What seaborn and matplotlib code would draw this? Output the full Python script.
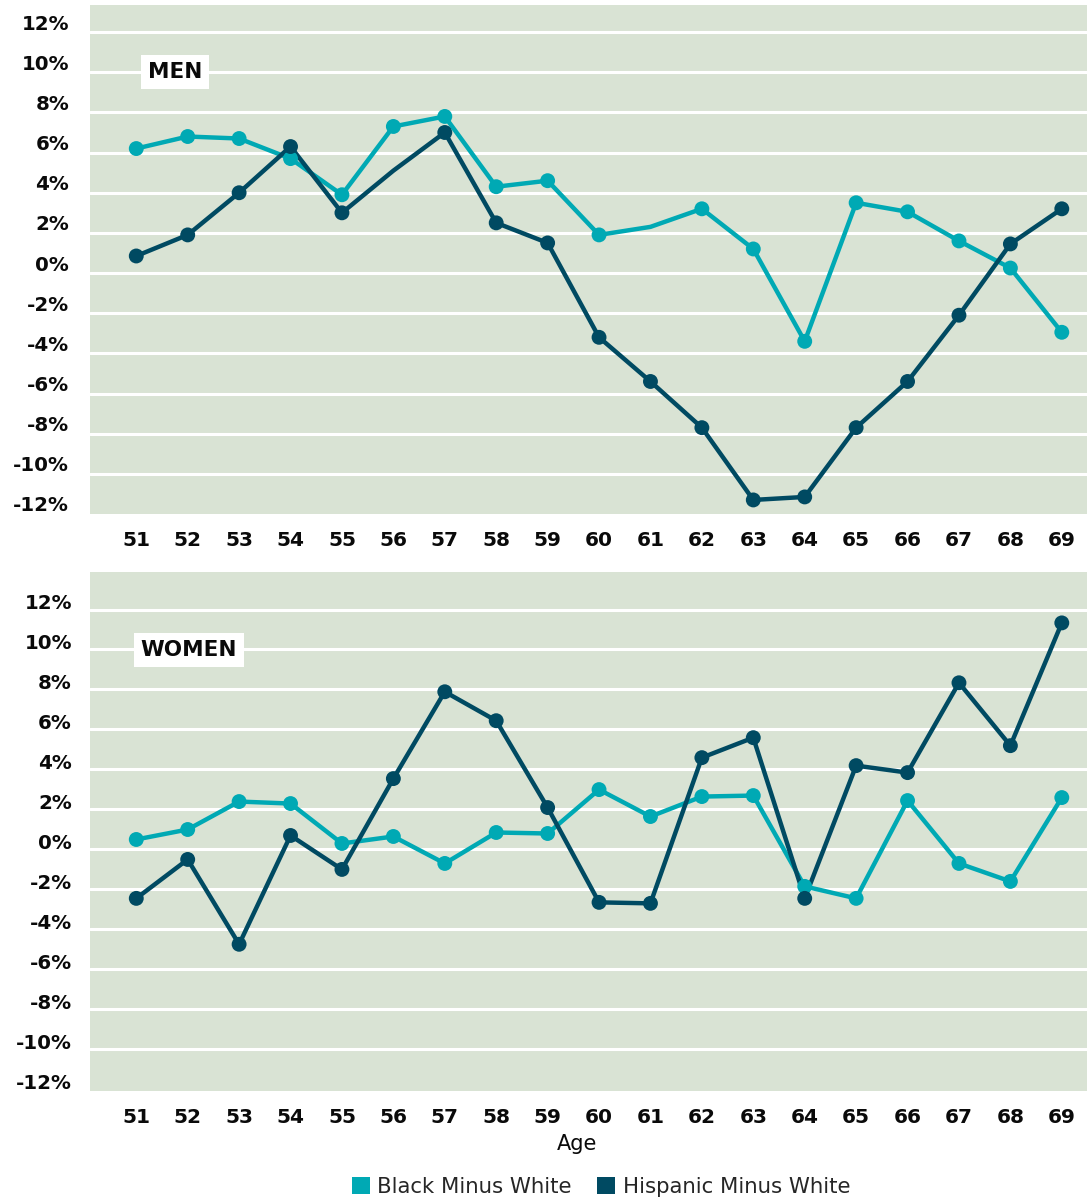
import numpy as np
import pandas as pd
import matplotlib
matplotlib.use("Agg")
import matplotlib.pyplot as plt
import seaborn as sns
from matplotlib.patches import Patch

# ---- data ----
ages = list(range(51, 70))

men_black = [5.7, 6.3, 6.2, 5.2, 3.4, 6.8, 7.3, 3.8, 4.1, 1.4, 1.8, 2.7, 0.7,
             -3.9, 3.0, 2.55, 1.1, -0.25, -3.45]
men_hispanic = [0.35, 1.4, 3.5, 5.8, 2.5, 4.6, 6.5, 2.0, 1.0, -3.7, -5.9, -8.2,
                -11.8, -11.65, -8.2, -5.9, -2.6, 0.95, 2.7]
women_black = [0.1, 0.6, 2.0, 1.9, -0.1, 0.25, -1.1, 0.45, 0.4, 2.6, 1.25,
               2.25, 2.3, -2.25, -2.85, 2.05, -1.1, -2.0, 2.2]
women_hispanic = [-2.85, -0.9, -5.15, 0.3, -1.4, 3.15, 7.5, 6.05, 1.7, -3.05,
                  -3.1, 4.2, 5.2, -2.85, 3.8, 3.45, 7.95, 4.8, 10.95]

# points drawn without a dot in the reference
men_black_nodot = [61]
men_hispanic_nodot = [56]

series_names = ["Black Minus White", "Hispanic Minus White"]
colors = {"Black Minus White": "#00a9b4", "Hispanic Minus White": "#004a62"}
y_ticks = list(range(-12, 13, 2))

bg = "#d9e3d4"

sns.set_theme(style="white")
plt.rcParams["font.family"] = ["DejaVu Sans"]


def make_frame(black, hispanic, black_nodot=(), hispanic_nodot=()):
    rows = []
    for name, vals, nodot in [(series_names[0], black, black_nodot),
                              (series_names[1], hispanic, hispanic_nodot)]:
        for a, v in zip(ages, vals):
            rows.append({"age": a, "value": v, "series": name,
                         "dot": a not in nodot})
    return pd.DataFrame(rows)


def draw_panel(ax, df, label, ylim, grid_offset, ylab_pad, label_xy):
    ax.set_facecolor(bg)
    for s in ax.spines.values():
        s.set_visible(False)
    # white horizontal rules
    for g in np.arange(-10, 13, 2) + grid_offset:
        if ylim[0] < g < ylim[1]:
            ax.axhline(g, color="white", lw=2.2, zorder=1)
    sns.lineplot(data=df, x="age", y="value", hue="series", palette=colors,
                 linewidth=3.2, legend=False, ax=ax, zorder=3)
    sns.scatterplot(data=df[df["dot"]], x="age", y="value", hue="series",
                    palette=colors, s=115, linewidth=0, legend=False, ax=ax,
                    zorder=4)
    ax.set_xlim(50.1, 69.49)
    ax.set_ylim(*ylim)
    ax.set_xticks(ages)
    ax.set_xticklabels([str(a) for a in ages], fontsize=14.5, fontweight="bold")
    ax.set_yticks(y_ticks)
    ax.set_yticklabels([f"{v}%" for v in y_ticks], fontsize=14.3,
                       fontweight="bold")
    ax.tick_params(axis="x", length=4.5, width=1.6, color="#1a1a1a", pad=8,
                   labelcolor="#0a0a0a")
    ax.tick_params(axis="y", length=0, pad=ylab_pad, labelcolor="#0a0a0a")
    ax.set_xlabel("")
    ax.set_ylabel("")
    ax.text(label_xy[0], label_xy[1], label, transform=ax.transAxes,
            ha="center", va="center", fontsize=15.5, fontweight="bold",
            color="#0a0a0a", zorder=5,
            bbox=dict(facecolor="white", edgecolor="none", pad=5))


fig = plt.figure(figsize=(10.87, 11.99), dpi=100)
ax_men = fig.add_axes([90 / 1087, 1 - 514 / 1199, 997 / 1087, 509 / 1199])
ax_women = fig.add_axes([90 / 1087, 1 - 1091 / 1199, 997 / 1087, 519 / 1199])

draw_panel(ax_men, make_frame(men_black, men_hispanic, men_black_nodot,
                              men_hispanic_nodot),
           "MEN", (-12.5, 12.85), -0.5, 15, (0.0853, 0.868))
draw_panel(ax_women, make_frame(women_black, women_hispanic),
           "WOMEN", (-12.5, 13.5), -0.38, 13, (0.0993, 0.850))

fig.text(577 / 1087, 1 - 1144 / 1199, "Age", ha="center", va="center",
         fontsize=15, color="#0a0a0a")

handles = [Patch(facecolor=colors[n], edgecolor="none") for n in series_names]
fig.legend(handles, series_names, loc="center", ncol=2, frameon=False,
           bbox_to_anchor=(601 / 1087, 1 - 1187 / 1199), fontsize=15.3,
           handlelength=0.85, handleheight=0.85, handletextpad=0.35,
           columnspacing=1.2, borderaxespad=0, borderpad=0)

fig.savefig("out.png", dpi=100, facecolor="white")
